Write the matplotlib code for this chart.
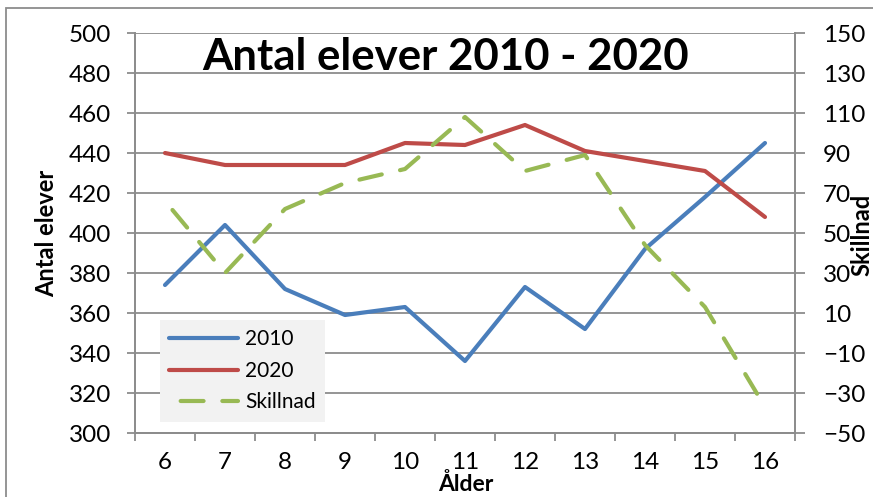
"""
Antal elever 2010 - 2020, per ålder, med skillnad på högeraxeln
"""
import matplotlib
matplotlib.use('Agg')
import matplotlib.pyplot as plt
from matplotlib.patches import Rectangle
import numpy as np

#%% Data
alder = [6, 7, 8, 9, 10, 11, 12, 13, 14, 15, 16]
elever_2010 = [374, 404, 372, 359, 363, 336, 373, 352, 392, 418, 445]
elever_2020 = [440, 434, 434, 434, 445, 444, 454, 441, 436, 431, 408]
skillnad = [66, 30, 62, 75, 82, 108, 81, 89, 44, 13, -37]

#%% Style
plt.rcParams['font.family'] = ['Lato', 'DejaVu Sans']
c_2010 = '#4a7ebb'
c_2020 = '#be4b48'
c_skill = '#98b954'
c_grid = '#8c8c8c'
W, H = 873, 497
LW = 3
DASH = (5.5, 4.5)

fig = plt.figure(figsize=(W / 100, H / 100), dpi=100)
ax = fig.add_axes([135/W, 1 - 433/H, 660/W, 400/H])
ax2 = ax.twinx()

x = list(range(len(alder)))
l1, = ax.plot(x, elever_2010, color=c_2010, lw=LW, solid_capstyle='round', label='2010')
l2, = ax.plot(x, elever_2020, color=c_2020, lw=LW, solid_capstyle='round', label='2020')
l3, = ax2.plot(x, skillnad, color=c_skill, lw=LW, dashes=DASH,
               dash_capstyle='round', label='Skillnad')

# Axes
ax.set_xlim(-0.5, len(alder) - 0.5)
ax.set_ylim(300, 500)
ax.set_yticks(range(300, 501, 20))
ax2.set_ylim(-50, 150)
ax2.set_yticks(range(-50, 151, 20))
ax.set_xticks(x)
ax.set_xticklabels([str(a) for a in alder])
ax.set_xticks([i - 0.5 for i in range(len(alder) + 1)], minor=True)
ax.tick_params(axis='x', which='major', length=0, labelsize=17.5, pad=14)
ax.tick_params(axis='x', which='minor', length=6, width=1.3, color=c_grid, direction='out')
ax.tick_params(axis='y', length=6, width=1.3, color=c_grid, labelsize=17.5, pad=11)
ax2.tick_params(axis='y', length=7, width=1.3, color=c_grid, labelsize=17.5, pad=13)

ax.yaxis.grid(True, color=c_grid, lw=1.3)
ax.set_axisbelow(True)
for a in (ax, ax2):
    a.spines['top'].set_visible(False)
    for s in ('left', 'right', 'bottom'):
        a.spines[s].set_color(c_grid)
        a.spines[s].set_linewidth(1.3)

# Shift the dash pattern so the line ends in a gap, like the original
pts = ax2.transData.transform(np.column_stack([x, skillnad]))
path_len = np.sum(np.hypot(*np.diff(pts, axis=0).T))
unit = LW * 100 / 72
period = (DASH[0] + DASH[1]) * unit
offset_px = (38.4 - path_len) % period
l3.set_linestyle((offset_px / unit, DASH))

# Axis titles placed like the original
fig.text(47/W, 1 - 233/H, 'Antal elever', rotation=90, ha='center', va='center',
         fontsize=17, fontweight='bold')
fig.text(862/W, 1 - 235/H, 'Skillnad', rotation=90, ha='center', va='center',
         fontsize=17, fontweight='bold')
fig.text(466/W, 1 - 484/H, 'Ålder', ha='center', va='center',
         fontsize=16.5, fontweight='bold')

fig.text(446/W, 1 - 57/H, 'Antal elever 2010 - 2020', ha='center', va='center',
         fontsize=31.5, fontweight='bold')

leg = ax2.legend(handles=[l1, l2, l3], loc='upper left', bbox_to_anchor=(25/660, 113/400),
                 borderaxespad=0, fontsize=15, handlelength=3.3, handletextpad=0.35,
                 frameon=True, fancybox=False, borderpad=0.45, labelspacing=0.55)
leg.get_frame().set_facecolor('#f2f2f2')
leg.get_frame().set_edgecolor('none')
leg.get_frame().set_alpha(1)

# Chart area border
fig.patches.append(Rectangle((6/W, -0.1), 1.1, 1 - 8/H + 0.1, transform=fig.transFigure,
                             fill=False, edgecolor=c_grid, lw=1.3))

fig.savefig('out.png', dpi=100)
